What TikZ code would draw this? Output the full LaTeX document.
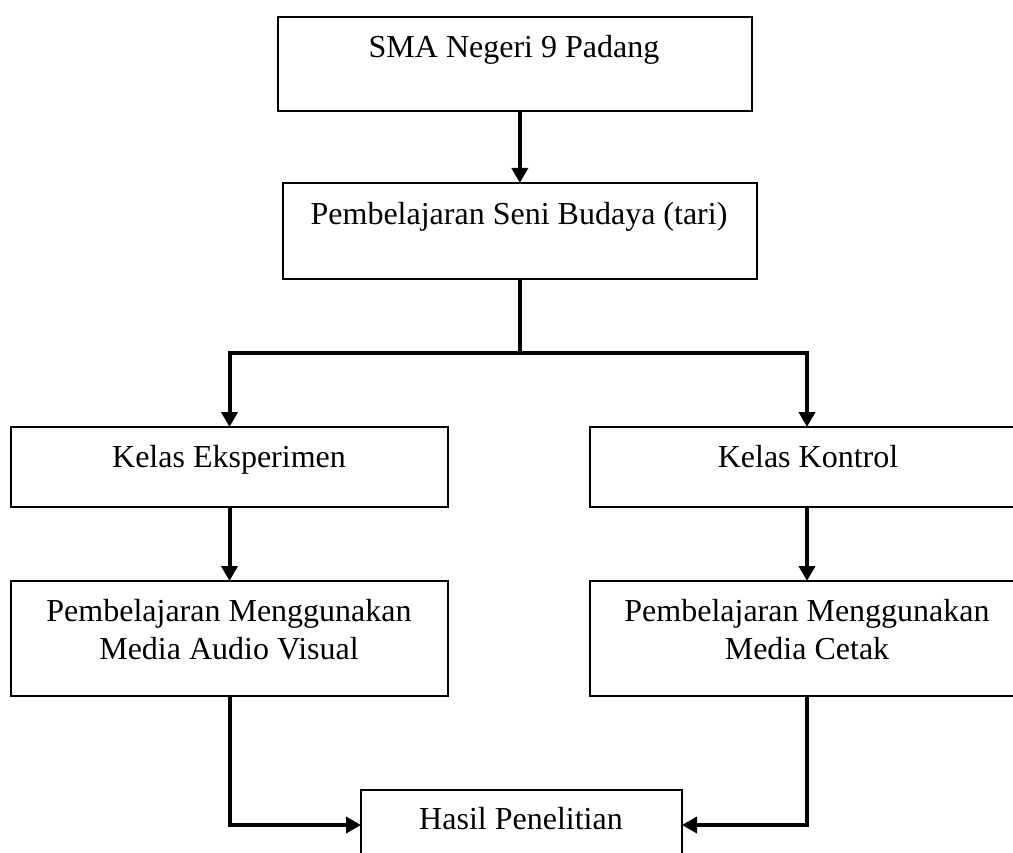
\documentclass[tikz,border=0pt]{standalone}
\usepackage{fontspec}
\setmainfont{Liberation Serif}
\usetikzlibrary{arrows.meta}
\begin{document}
\begin{tikzpicture}[x=1pt,y=-1pt,
  boxA/.style={draw,rectangle,inner sep=0pt,outer sep=0pt,line width=2pt},
  boxB/.style={draw,rectangle,inner sep=0pt,outer sep=0pt,line width=1.4pt},
  boxC/.style={draw,rectangle,inner sep=0pt,outer sep=0pt,line width=2.8pt},
  txt/.style={anchor=base,inner sep=0pt,font=\fontsize{32}{38}\selectfont},
  conn/.style={line width=4pt},
  arr/.style={line width=4pt,-{Triangle[width=16pt,length=15pt]}}]
\useasboundingbox (0,0) rectangle (1013,853);
\clip (0,0) rectangle (1013,853);
\fill[white] (0,0) rectangle (1013,853);
% boxes
\node[boxA,minimum width=474.5pt,minimum height=94pt] (b1) at (514.75,64) {};
\node[boxA,minimum width=474.3pt,minimum height=96pt] (b2) at (519.85,231) {};
\node[boxB,minimum width=437pt,minimum height=80pt] (b3) at (229.5,467) {};
\node[boxB,minimum width=434pt,minimum height=80pt] (b4) at (807,467) {};
\node[boxB,minimum width=437pt,minimum height=115pt] (b5) at (229.5,638.5) {};
\node[boxB,minimum width=434pt,minimum height=115pt] (b6) at (807,638.5) {};
\node[boxC,minimum width=321pt,minimum height=70pt] (b7) at (521.5,825) {};
% texts
\node[txt] (t1) at (514,58) {SMA Negeri 9 Padang};
\node[txt] (t2) at (519,225) {Pembelajaran Seni Budaya (tari)};
\node[txt] (t3) at (229,467) {Kelas Eksperimen};
\node[txt] (t4) at (808,467) {Kelas Kontrol};
\node[txt] (t5a) at (229,621) {Pembelajaran Menggunakan};
\node[txt] (t5b) at (229,659) {Media Audio Visual};
\node[txt] (t6a) at (807,621) {Pembelajaran Menggunakan};
\node[txt] (t6b) at (807,659) {Media Cetak};
\node[txt] (t7) at (521,829) {Hasil Penelitian};
% connectors
\coordinate (split) at (519.85,352.7);
\draw[arr] (b2.north |- b1.south) -- (b2.north);
\draw[conn] (b2.south) -- (split);
\draw[arr] (split) -| (b3.north);
\draw[arr] (split) -| (b4.north);
\draw[arr] (b3.south) -- (b5.north);
\draw[arr] (b4.south) -- (b6.north);
\draw[arr] (b5.south) |- (b7.west);
\draw[arr] (b6.south) |- (b7.east);
\end{tikzpicture}
\end{document}
